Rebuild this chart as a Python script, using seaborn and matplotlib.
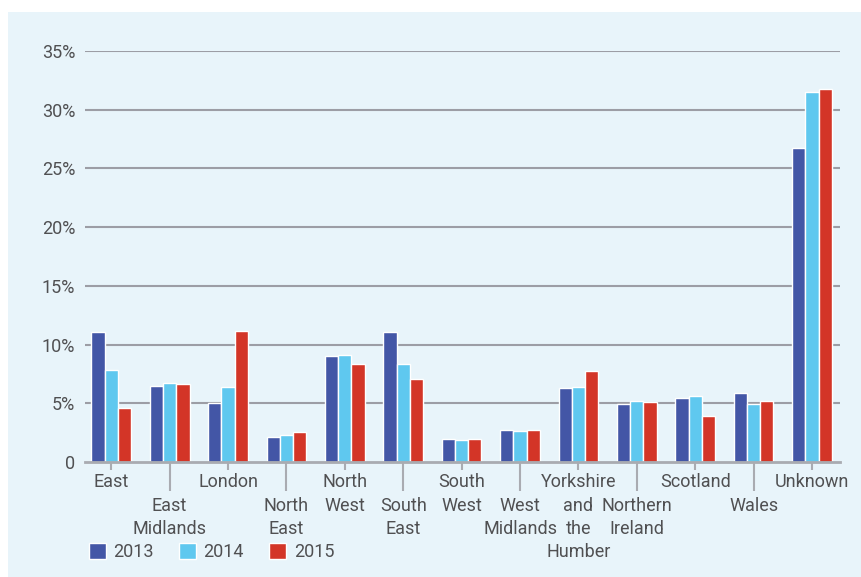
import matplotlib
matplotlib.use("Agg")
import matplotlib.pyplot as plt
from matplotlib.patches import Rectangle
import seaborn as sns
import pandas as pd

regions = ["East", "East\nMidlands", "London", "North\nEast", "North\nWest",
           "South\nEast", "South\nWest", "West\nMidlands", "Yorkshire\nand\nthe\nHumber",
           "Northern\nIreland", "Scotland", "Wales", "Unknown"]
years = ["2013", "2014", "2015"]
share_2013 = [11.1, 6.45, 5.0, 2.1, 9.0, 11.1, 1.95, 2.7, 6.3, 4.95, 5.45, 5.85, 26.7]
share_2014 = [7.85, 6.7, 6.35, 2.3, 9.15, 8.35, 1.85, 2.65, 6.4, 5.2, 5.6, 4.95, 31.5]
share_2015 = [4.6, 6.6, 11.15, 2.55, 8.35, 7.05, 1.95, 2.75, 7.75, 5.1, 3.9, 5.2, 31.8]
y_ticks = [0, 5, 10, 15, 20, 25, 30, 35]
y_tick_labels = ["0", "5%", "10%", "15%", "20%", "25%", "30%", "35%"]

colors = ["#4356a6", "#5fc8ef", "#d33527"]
text_color = "#505052"
grid_color = "#9c9da5"
panel_color = "#e8f4fa"
font_size = 13

df = pd.DataFrame({
    "region": regions * 3,
    "year": [y for y in years for _ in regions],
    "share": share_2013 + share_2014 + share_2015,
})

sns.set_style("white")
plt.rcParams["font.family"] = ["Roboto", "DejaVu Sans"]

fig = plt.figure(figsize=(8.61, 5.77), dpi=100, facecolor="white")
fig.patches.append(Rectangle((8 / 861, 0), 1 - 8 / 861, 1 - 12 / 577,
                             transform=fig.transFigure, facecolor=panel_color,
                             edgecolor="none", zorder=-10))
ax = fig.add_axes([85 / 861, 1 - 462 / 577, (840 - 85) / 861, (462 - 51) / 577])
ax.set_zorder(1)
ax.patch.set_alpha(0)

sns.barplot(data=df, x="region", y="share", hue="year", palette=colors,
            width=0.68, gap=0, saturation=1, ax=ax, zorder=3)

ax.set_ylim(0, 35)
ax.set_xlim(-0.45, len(regions) - 1 + 0.48)
ax.set_yticks(y_ticks)
ax.set_yticklabels(y_tick_labels)
for v in y_ticks[1:]:
    ax.axhline(v, color=grid_color, lw=1.5, zorder=1)

for s in ["top", "right", "left"]:
    ax.spines[s].set_visible(False)
ax.spines["bottom"].set_color("#a9abb1")
ax.spines["bottom"].set_linewidth(2)
ax.spines["bottom"].set_zorder(4)

ax.set_xlabel("")
ax.set_ylabel("")

# stagger the region names: every other label drops one line
ax.set_xticks(range(len(regions)))
ax.set_xticklabels([r if i % 2 == 0 else "\n" + r for i, r in enumerate(regions)])
for lab in ax.get_xticklabels():
    lab.set_linespacing(1.39)
ax.tick_params(axis="x", bottom=True, length=6, width=1.5, color="#a9abb1", pad=2,
               labelsize=font_size, labelcolor=text_color)
ax.tick_params(axis="y", left=False, length=0, pad=7, labelsize=font_size,
               labelcolor=text_color)
for i, t in enumerate(ax.xaxis.get_major_ticks()):
    if i % 2 == 1:
        t.tick1line.set_markersize(21)

ax.legend(loc="center left", bbox_to_anchor=(89 / 861, 1 - 552 / 577),
          bbox_transform=fig.transFigure, ncol=3, frameon=False,
          handlelength=0.95, handleheight=0.95, handletextpad=0.4,
          columnspacing=1.4, fontsize=font_size, labelcolor=text_color,
          borderaxespad=0, borderpad=0)

fig.savefig("out.png", dpi=100, facecolor="white")
